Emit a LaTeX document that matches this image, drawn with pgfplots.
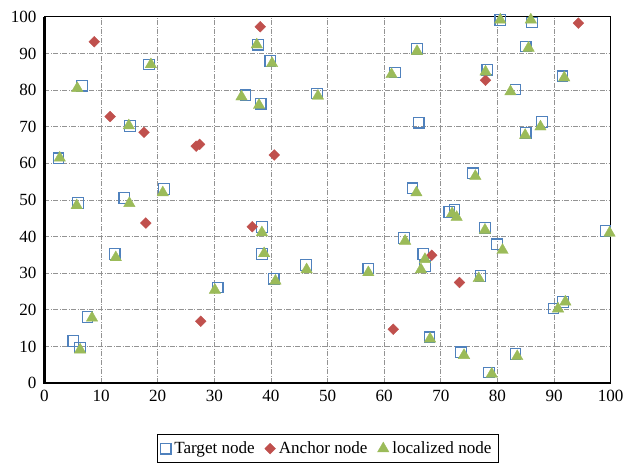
\documentclass[border=0pt]{standalone}
\usepackage{fontspec}
\setmainfont{Liberation Serif}
\usepackage{pgfplots}
\pgfplotsset{compat=1.18}
\definecolor{tblue}{HTML}{4F81BD}
\definecolor{ared}{HTML}{C0504D}
\definecolor{lgreen}{HTML}{9BBB59}
\begin{document}
\begin{tikzpicture}
\begin{axis}[
  name=ax,
  scale only axis,
  width=341.4pt, height=220.8pt,
  xmin=0, xmax=100, ymin=0, ymax=100,
  xtick distance=10, ytick distance=10,
  major tick length=0pt,
  /pgf/number format/assume math mode=true,
  tick label style={font=\fontsize{10.3}{12}\selectfont, black},
  yticklabel style={xshift=-1.3pt},
  xticklabel style={yshift=-0.5pt},
  grid=major,
  major grid style={gray!85, densely dashdotted, line width=0.5pt},
  axis line style={black, line width=0.6pt},
  clip=false,
  legend columns=3,
  legend style={at={(0.5,-0.14)}, anchor=north, draw=black, line width=0.6pt,
    font=\fontsize{10.3}{12}\selectfont, inner sep=2pt,
    /tikz/every even column/.append style={column sep=4pt}},
  legend cell align=left,
]
\addplot[only marks, mark=square, mark size=3.2pt, mark options={draw=tblue, line width=0.7pt}] coordinates {
(2.5,61.4) (6.6,81.2) (15.1,70.2) (18.5,87.0) (21.1,53.0) (37.7,92.4) (35.5,78.6)
(38.2,76.3) (39.9,87.9) (48.1,79.1) (80.5,99.2) (86.1,98.5) (65.8,91.2) (85.0,91.9)
(61.9,84.8) (78.2,85.6) (91.5,83.8) (83.2,80.2) (66.1,71.1) (87.9,71.3) (85.0,68.4)
(75.7,57.3) (65.0,53.2) (5.9,49.2) (14.1,50.5) (38.4,42.6) (12.4,35.3) (38.4,35.3)
(46.2,32.3) (40.5,28.5) (30.6,26.1) (7.6,18.1) (5.1,11.5) (6.3,9.7) (71.5,46.7)
(72.4,47.4) (77.8,42.4) (99.1,41.5) (63.5,39.6) (79.9,37.9) (66.9,35.2) (67.2,32.0)
(57.2,31.3) (77.0,29.2) (89.9,20.4) (91.6,22.2) (68.0,12.5) (73.6,8.4) (83.2,8.0)
(78.5,2.9)
};
\addlegendentry{Target node}
\addplot[only marks, mark=square*, mark size=2.3pt, mark options={rotate=45, fill=ared, draw=ared, line width=0.2pt}] coordinates {
(8.8,93.2) (11.6,72.8) (17.6,68.5) (26.8,64.7) (27.4,65.2) (38.1,97.3) (40.6,62.3)
(94.3,98.3) (77.9,82.7) (17.9,43.7) (36.7,42.7) (27.6,16.9) (68.4,34.9) (73.3,27.5)
(61.6,14.7)
};
\addlegendentry{Anchor node}
\addplot[only marks, mark=triangle*, mark size=4pt, mark options={fill=lgreen, draw=lgreen, line width=0.2pt}] coordinates {
(2.7,61.5) (5.8,80.5) (14.9,70.3) (18.8,87.0) (20.9,52.0) (37.5,92.4) (34.8,78.2)
(37.9,75.9) (40.2,87.3) (48.3,78.4) (80.5,99.2) (85.9,99.2) (65.8,90.6) (85.5,91.5)
(61.3,84.3) (77.9,85.0) (91.8,83.4) (82.3,79.6) (87.6,70.0) (84.9,67.7) (76.1,56.5)
(65.7,52.0) (5.7,48.5) (15.0,49.1) (38.4,41.1) (12.6,34.3) (38.8,35.4) (46.3,31.0)
(40.8,27.9) (30.1,25.4) (8.4,17.8) (6.3,9.1) (72.0,46.3) (72.8,45.3) (77.8,41.8)
(99.8,41.0) (63.7,38.8) (80.9,36.3) (67.2,33.8) (66.5,31.0) (57.2,30.2) (76.7,28.6)
(90.7,20.3) (92.0,22.2) (68.1,12.1) (74.1,7.6) (83.5,7.3) (79.0,2.5)
};
\addlegendentry{localized node}
\draw[black, line width=1.4pt] (rel axis cs:0,1) -- (rel axis cs:0,0) -- (rel axis cs:1,0);
\end{axis}
\path ([xshift=-26.8pt,yshift=10.2pt]ax.north west) -- ([xshift=9.3pt]ax.north east);
\end{tikzpicture}
\end{document}
